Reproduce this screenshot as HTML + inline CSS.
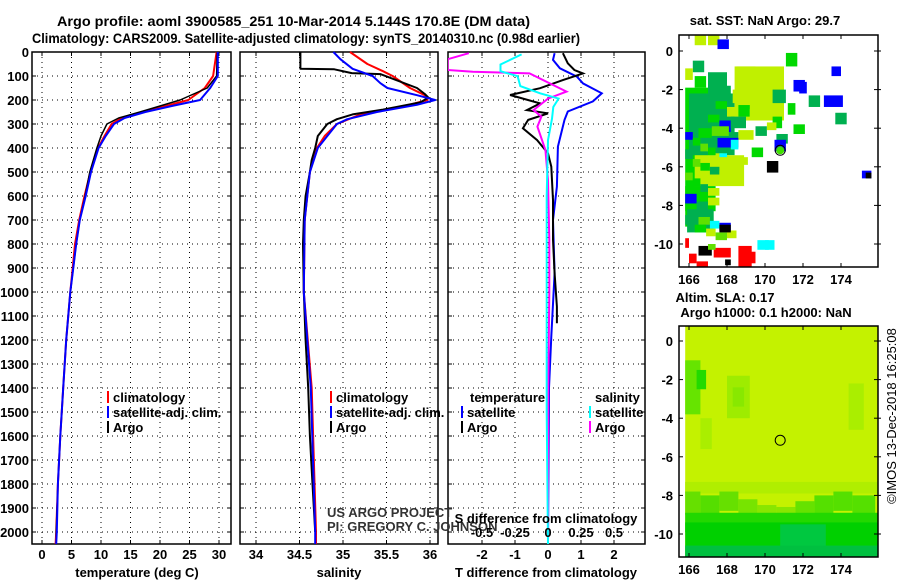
<!DOCTYPE html>
<html><head><meta charset="utf-8">
<style>
html,body{margin:0;padding:0;background:#fff;}
svg{display:block;font-family:"Liberation Sans",sans-serif;}
.b{font-weight:bold;font-size:13px;}
.t{font-weight:bold;font-size:14px;}
</style></head>
<body>
<svg id="chart" width="900" height="580" viewBox="0 0 900 580" xmlns="http://www.w3.org/2000/svg">
<text class="t" x="57" y="26" textLength="473" lengthAdjust="spacingAndGlyphs">Argo profile: aoml 3900585_251 10-Mar-2014 5.144S 170.8E (DM data)</text>
<text class="t" x="32" y="43" textLength="548" lengthAdjust="spacingAndGlyphs">Climatology: CARS2009. Satellite-adjusted climatology: synTS_20140310.nc (0.98d earlier)</text>
<text class="b" x="765" y="25" text-anchor="middle">sat. SST: NaN Argo: 29.7</text>
<text class="b" x="725" y="302" text-anchor="middle">Altim. SLA: 0.17</text>
<text class="b" x="766" y="317" text-anchor="middle">Argo h1000: 0.1 h2000: NaN</text>
<text x="896" y="416" font-size="13" text-anchor="middle" transform="rotate(-90 896 416)">©IMOS 13-Dec-2018 16:25:08</text>
<g id="g"></g>
</svg>
<script>
// ---- data ----
const depthTicks=[0,100,200,300,400,500,600,700,800,900,1000,1100,1200,1300,1400,1500,1600,1700,1800,1900,2000];
const tempTicks=[0,5,10,15,20,25,30];
const salTicks=[34,34.5,35,35.5,36];
const tdiffTicks=[-2,-1,0,1,2];
const sdiffTicks=[-0.5,-0.25,0,0.25,0.5];
const latTicks=[0,-2,-4,-6,-8,-10];
const lonTicks=[166,168,170,172,174];

const tDepth=[0,100,150,200,225,250,275,300,350,400,500,600,700,800,900,1000,1200,1400,1600,1800,2000,2050];
const tArgo=[29.7,29.6,28.0,23.4,20,16.6,13,11,10,9.3,8.1,7.3,6.4,5.8,5.3,4.8,4.1,3.6,3.1,2.7,2.4,2.4];
const tClim=[29.6,29.0,27.6,24.8,21,17,13.5,11.8,10.6,9.5,8.2,7.2,6.3,5.6,5.2,4.8,4.1,3.6,3.1,2.7,2.4,2.3];
const tSat=[29.8,29.8,28.5,26.8,22,17.5,14,12.2,10.8,9.6,8.3,7.4,6.4,5.8,5.3,4.8,4.1,3.6,3.1,2.7,2.5,2.4];

const sArgoDepth=[0,70,72,88,92,150,175,190,210,240,260,280,300,350,400,450,500,600,700,800,1000,1200,1400,1600,1800,2000];
const sArgo=[34.51,34.51,34.9,35.1,35.43,35.85,35.94,35.98,35.89,35.46,35.11,34.93,34.82,34.71,34.68,34.64,34.62,34.57,34.55,34.54,34.55,34.57,34.60,34.62,34.65,34.68];
const sClimDepth=[0,50,80,100,150,180,200,230,260,300,350,400,500,700,1000,1400,2000,2050];
const sClim=[35.08,35.28,35.46,35.57,35.77,35.94,35.97,35.66,35.20,34.93,34.79,34.70,34.62,34.56,34.55,34.64,34.69,34.69];
const sSatDepth=[0,30,70,100,130,150,180,200,220,250,280,300,350,400,500,700,1000,1400,2000,2050];
const sSat=[34.89,34.97,35.11,35.34,35.43,35.51,35.85,36.06,35.85,35.39,35.05,34.93,34.82,34.71,34.62,34.56,34.55,34.63,34.68,34.68];

const dtSatDepth=[5,33,68,103,131,172,206,248,283,394,561,700,922,1185,1400,2050];
const dtSat=[0.2,0.15,0.36,0.88,1.06,1.63,1.36,0.6,0.5,0.3,0.27,0.15,0.2,0.1,0.03,0.0];
const dtArgoDepth=[5,47,75,89,117,151,179,214,242,256,283,318,367,422,478,617,783,922,1061,1130];
const dtArgo=[0.45,0.6,0.8,1.06,0.45,-0.24,-1.15,-0.24,-0.64,0,-0.6,-0.76,-0.33,0,0.1,0.15,0.15,0.2,0.27,0.27];
const dsSatDepth=[10,52,80,101,142,172,194,229,278,367,600,1000,1500,2050];
const dsSat=[-0.2,-0.36,-0.36,-0.23,-0.21,-0.06,0.08,0.04,0.03,0,-0.01,-0.01,-0.01,0];
const dsArgoDepth=[5,30,75,82,89,165,194,242,269,311,408,533,783,1000,1500,2050];
const dsArgo=[-0.6,-0.76,-0.76,-0.57,-0.14,0.14,0,-0.11,-0.05,-0.08,-0.02,0,0.01,0.01,0,0];

// SST map cells: lon, lat(top), width, height (deg), colour code
const cLon=[165.8,166.0,168.4,166.3,165.8,165.9,169.0,167.0,166.3,167.5,171.1,166.2,165.8,167.0,168.5,169.5,171.5,171.8,166.3,167.2,168.3,168.9,169.6,170.4,171.2,172.3,173.1,173.5,173.7,167.4,168.0,168.6,169.2,169.8,170.4,166.6,167.0,167.6,168.2,166.0,166.5,167.2,168.1,168.6,169.5,170.1,170.6,171.5,167.5,168.2,169.3,170.5,165.8,166.2,166.6,167.0,167.4,167.8,168.3,165.8,166.2,166.6,167.1,167.6,165.8,166.2,166.6,167.0,165.8,166.4,167.0,166.0,166.5,167.1,167.6,165.8,166.3,166.9,167.4,168.0,167.6,170.0,170.1,175.1,175.3,167.6,169.6,165.8,166.0,166.5,167.3,168.6,168.9,167.0,167.9,166.4];
const cLat=[-1.9,-2.2,-0.8,-5.4,-7.0,-8.2,-2.0,0.8,0.8,0.6,-0.1,-0.5,-0.9,-1.1,-0.8,-1.0,-1.5,-1.6,-1.3,-1.8,-2.0,-2.1,-2.3,-2.0,-2.7,-2.3,-2.3,-0.8,-3.2,-2.6,-2.9,-2.8,-3.0,-3.2,-3.4,-3.0,-3.3,-3.6,-3.4,-3.8,-4.0,-3.9,-4.2,-4.1,-3.9,-3.7,-4.3,-3.8,-4.5,-4.6,-5.0,-4.6,-4.2,-4.5,-4.8,-5.0,-5.3,-5.5,-5.5,-5.1,-5.6,-5.8,-6.0,-6.2,-6.3,-6.6,-6.9,-7.1,-7.4,-7.8,-7.6,-8.3,-8.6,-8.8,-8.9,-8.5,-9.0,-9.2,-9.4,-9.3,-9.0,-9.8,-5.7,-6.2,-6.3,-5.3,-9.8,-9.7,-10.5,-10.1,-10.2,-10.1,-10.4,-10.0,-10.8,-10.9];
const cW=[1.2,2.4,2.6,2.6,1.6,1.4,1.6,0.6,0.6,0.6,0.6,0.6,0.4,1.0,1.0,0.7,0.6,0.4,0.6,1.0,0.8,0.6,1.2,0.7,0.4,0.6,1.0,0.5,0.6,0.6,0.6,0.6,0.6,0.6,0.5,0.4,0.6,0.6,0.8,0.5,0.7,0.9,0.5,0.8,0.6,0.5,0.6,0.6,1.1,0.4,0.6,0.6,0.4,0.4,0.4,0.4,0.4,0.5,0.8,0.4,0.4,0.5,0.5,0.6,0.4,0.4,0.4,0.6,0.6,0.6,0.6,0.5,0.6,0.5,0.6,0.5,0.6,0.5,0.6,0.5,0.6,0.5,0.6,0.5,0.3,0.4,0.6,0.2,0.4,0.7,0.9,0.7,0.6,0.4,0.3,0.6];
const cH=[7.2,3.2,2.8,1.6,1.3,1.2,1.6,0.5,0.5,0.5,0.7,0.6,0.6,1.2,0.8,0.9,0.6,0.6,0.6,0.8,0.7,0.8,1.0,0.7,0.6,0.6,0.6,0.5,0.6,0.4,0.5,0.6,0.5,0.4,0.6,0.4,0.4,0.6,0.6,0.4,0.5,0.5,0.5,0.5,0.5,0.4,0.5,0.5,0.5,0.5,0.5,0.6,0.4,0.4,0.4,0.4,0.4,0.4,0.4,0.5,0.4,0.4,0.4,0.4,0.4,0.4,0.4,0.4,0.5,0.5,0.4,0.4,0.4,0.4,0.4,0.5,0.4,0.4,0.4,0.4,0.4,0.5,0.6,0.4,0.3,0.2,0.5,0.5,0.5,0.5,0.5,1.1,0.6,0.3,0.3,0.3];
const cCol=["G","D","Y","Y","G","D","Y","Y","Y","B","G","D","Y","D","Y","Y","B","B","G","D","Y","Y","Y","D","G","D","B","B","D","G","Y","G","Y","Y","G","D","G","B","D","D","G","M","D","Y","D","Y","D","G","B","C","G","B","B","G","M","G","Y","Y","Y","D","M","G","D","Y","M","G","D","Y","B","D","Y","D","M","C","B","D","G","Y","M","Y","K","C","K","B","K","C","C","R","R","K","R","R","R","M","K","R"];

// SLA map regions: lon, lat(top), width, height, colour
const aLon=[165.8,165.8,165.8,166.4,168.0,168.3,166.6,174.4,165.8,166.6,167.6,168.6,169.6,170.6,171.6,172.6,173.6,174.6,165.8,165.8,170.8,165.8];
const aLat=[0.8,-7.3,-1.0,-1.5,-1.8,-2.4,-4.0,-2.2,-7.8,-8.0,-7.8,-8.2,-8.5,-8.6,-8.3,-8.0,-7.8,-8.0,-8.9,-9.4,-9.5,-10.6];
const aW=[10.2,10.2,0.8,0.5,1.2,0.6,0.6,0.8,0.8,1.0,1.0,1.0,1.0,1.0,1.0,1.0,1.0,1.2,10.2,10.2,2.4,10.2];
const aH=[12.0,0.6,2.8,1.0,2.2,1.0,1.6,2.4,1.2,1.0,1.0,1.0,1.0,1.0,1.0,1.0,1.0,1.0,1.0,2.0,1.4,0.6];
const aCol=["#c4f200","#b0ee00","#66e400","#22da00","#9eec00","#88e800","#aaee00","#aaee00","#66e000","#55de00","#66e000","#77e400","#88e600","#88e600","#66e200","#55e000","#55e000","#55e000","#22d800","#00d000","#00c840","#00c040"];

// ---- drawing ----
const NS="http://www.w3.org/2000/svg";
const G=document.getElementById('g');
function mk(tag,at,parent){const e=document.createElementNS(NS,tag);for(const k in at)e.setAttribute(k,at[k]);(parent||G).appendChild(e);return e;}
const yD=d=>52+0.24*d;
const panels=[
 {x0:32,x1:231,sx:v=>42+5.9*v,name:'temperature'},
 {x0:240,x1:438,sx:v=>256+87*(v-34),name:'salinity'},
 {x0:448,x1:645,sx:v=>548+33*v,name:'difference'}
];
const ssx=v=>548+132*v;
const yTop=52,yBot=544;
panels.forEach((p,i)=>{
  const grp=mk('g',{});
  
  
  depthTicks.forEach(d=>{
    const gl=mk('line',{x1:p.x0,x2:p.x1,y1:yD(d),y2:yD(d),stroke:'#000','stroke-width':1,'stroke-dasharray':'1,4'},grp);
    
    
    mk('line',{x1:p.x0,x2:p.x0+4,y1:yD(d),y2:yD(d),stroke:'#000'},grp);
    mk('line',{x1:p.x1-4,x2:p.x1,y1:yD(d),y2:yD(d),stroke:'#000'},grp);
    if(i===0){const t=mk('text',{x:29,y:yD(d)+5,'text-anchor':'end',class:'b'},grp);t.textContent=d;
      
      }
  });
  const ticks=i===0?tempTicks:i===1?salTicks:tdiffTicks;
  ticks.forEach(v=>{
    const x=p.sx(v);
    const gl=mk('line',{x1:x,x2:x,y1:yTop,y2:yBot,stroke:'#000','stroke-dasharray':'1,4'},grp);
    
    
    mk('line',{x1:x,x2:x,y1:yBot-4,y2:yBot,stroke:'#000'},grp);
    mk('line',{x1:x,x2:x,y1:yTop,y2:yTop+4,stroke:'#000'},grp);
    const t=mk('text',{x:x,y:559,'text-anchor':'middle',class:'b'},grp);t.textContent=v;
    
    
  });
  const fr=mk('rect',{x:p.x0,y:yTop,width:p.x1-p.x0,height:yBot-yTop,fill:'none',stroke:'#000','stroke-width':1.5},grp);
  
  
});
function line(ds,vs,sx,col,w,name){
  const pts=ds.map((d,k)=>sx(vs[k]).toFixed(1)+','+yD(d).toFixed(1)).join(' ');
  const e=mk('polyline',{points:pts,fill:'none',stroke:col,'stroke-width':w,'stroke-linejoin':'round'});
  
  
}
const sxT=panels[0].sx,sxS=panels[1].sx,sxD=panels[2].sx;
line(tDepth,tClim,sxT,'#f00',2,'temperature-climatology-line');
line(tDepth,tArgo,sxT,'#000',1.5,'temperature-argo-line');
line(tDepth,tSat,sxT,'#00f',2,'temperature-satellite-line');
line(sClimDepth,sClim,sxS,'#f00',2,'salinity-climatology-line');
line(sArgoDepth,sArgo,sxS,'#000',2,'salinity-argo-line');
line(sSatDepth,sSat,sxS,'#00f',2,'salinity-satellite-line');
const clip=mk('clipPath',{id:'c3'});mk('rect',{x:448,y:52,width:197,height:492},clip);
const dg=mk('g',{'clip-path':'url(#c3)'});
function line2(ds,vs,sx,col,name){
  const pts=ds.map((d,k)=>sx(vs[k]).toFixed(1)+','+yD(d).toFixed(1)).join(' ');
  const e=mk('polyline',{points:pts,fill:'none',stroke:col,'stroke-width':2},dg);
  
  
}
line2(dtSatDepth,dtSat,sxD,'#00f','tdiff-satellite-line');
line2(dtArgoDepth,dtArgo,sxD,'#000','tdiff-argo-line');
line2(dsArgoDepth,dsArgo,ssx,'#f0f','sdiff-argo-line');
line2(dsSatDepth,dsSat,ssx,'#0ff','sdiff-satellite-line');

function txt(x,y,s,cls,anchor,name,extra){const t=mk('text',Object.assign({x:x,y:y,class:cls||'b','text-anchor':anchor||'start'},extra||{}));t.textContent=s;
  
  return t;}
function leg(x,y,col,label,name){
  const m=mk('rect',{x:x,y:y-11,width:2,height:12,fill:col});
  
  
  txt(x+6,y,label,'b','start',name);
}
leg(107,402,'#f00','climatology','legend-climatology');
leg(107,417,'#00f','satellite-adj. clim.','legend-satellite-adj');
leg(107,432,'#000','Argo','legend-argo');
leg(330,402,'#f00','climatology','legend-sal-climatology');
leg(330,417,'#00f','satellite-adj. clim.','legend-sal-satellite-adj');
leg(330,432,'#000','Argo','legend-sal-argo');
txt(470,402,'temperature','b','start','legend-temperature-header');
txt(595,402,'salinity','b','start','legend-salinity-header');
leg(461,417,'#00f','satellite','legend-tdiff-satellite');
leg(461,432,'#000','Argo','legend-tdiff-argo');
leg(589,417,'#0ff','satellite','legend-sdiff-satellite');
leg(589,432,'#f0f','Argo','legend-sdiff-argo');
txt(327,517,'US ARGO PROJECT','', 'start','credit-project',{'font-size':13,fill:'#333'});
txt(327,531,'PI: GREGORY C. JOHNSON','', 'start','credit-pi',{'font-size':13,fill:'#333'});
txt(546,523,'S difference from climatology','b','middle','sdiff-axis-title');
sdiffTicks.forEach(v=>txt(ssx(v),537,String(v),'b','middle','sdiff-tick-label'));
txt(137,577,'temperature (deg C)','b','middle','temperature-axis-title');
txt(339,577,'salinity','b','middle','salinity-axis-title');
txt(546,577,'T difference from climatology','b','middle','tdiff-axis-title');

// maps
const COL={Y:'#c0f000',G:'#00d800',D:'#00b050',M:'#60e000',B:'#0000ff',K:'#000000',C:'#00ffff',R:'#ff0000'};
function drawMap(y0,y1,lat0y,name,fillFn){
  const lx=v=>689+19*(v-166), ly=v=>lat0y-19.3*v;
  const grp=mk('g',{});
  
  
  const cp=mk('clipPath',{id:name+'-clip'});mk('rect',{x:679,y:y0,width:199,height:y1-y0},cp);
  const inner=mk('g',{'clip-path':'url(#'+name+'-clip)'},grp);
  fillFn(inner,lx,ly);
  const c=mk('circle',{cx:lx(170.8),cy:ly(-5.144),r:5,fill:'none',stroke:'#000','stroke-width':1},grp);
  
  
  mk('rect',{x:679,y:y0,width:199,height:y1-y0,fill:'none',stroke:'#000','stroke-width':1.5},grp);
  latTicks.forEach(v=>{mk('line',{x1:679,x2:683,y1:ly(v),y2:ly(v),stroke:'#000'},grp);mk('line',{x1:874,x2:881,y1:ly(v),y2:ly(v),stroke:'#000'},grp);
    txt(673,ly(v)+5,String(v),'b','end','lat-tick-label');});
  lonTicks.forEach(v=>{mk('line',{x1:lx(v),x2:lx(v),y1:y1-4,y2:y1,stroke:'#000'},grp);mk('line',{x1:lx(v),x2:lx(v),y1:y0,y2:y0+4,stroke:'#000'},grp);
    txt(lx(v),y1+17,String(v),'b','middle','lon-tick-label');});
}
drawMap(35,267,51,'sst-map',(g,lx,ly)=>{
  mk('rect',{x:679,y:35,width:199,height:232,fill:'#fff'},g);
  for(let k=0;k<cLon.length;k++){
    const r=mk('rect',{x:lx(cLon[k]),y:ly(cLat[k]),width:19*cW[k],height:19.3*cH[k],fill:COL[cCol[k]]},g);
    
    
  }
  mk('circle',{cx:lx(170.8),cy:ly(-5.144),r:4,fill:'#40e000'},g);
});
drawMap(326,557,341,'sla-map',(g,lx,ly)=>{
  for(let k=0;k<aLon.length;k++){
    const r=mk('rect',{x:lx(aLon[k]),y:ly(aLat[k]),width:19*aW[k],height:19.3*aH[k],fill:aCol[k]},g);
    
    
  }
});
</script>
</body></html>
